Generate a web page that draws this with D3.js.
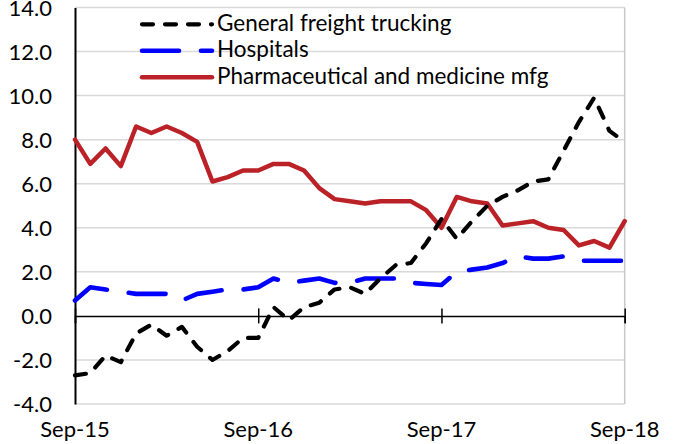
<!DOCTYPE html>
<html>
<head>
<meta charset="utf-8">
<script src="https://cdn.jsdelivr.net/npm/d3@7"></script>
<style>
  html, body { margin: 0; padding: 0; background: #fff; }
  svg text { font-family: Lato, "Open Sans", sans-serif; fill: #000; }
</style>
</head>
<body>
<svg id="chart" width="673" height="444"></svg>
<script>
// Monthly categories, Sep 2015 through Sep 2018
const months = [
  "2015-09","2015-10","2015-11","2015-12",
  "2016-01","2016-02","2016-03","2016-04","2016-05","2016-06","2016-07","2016-08","2016-09","2016-10","2016-11","2016-12",
  "2017-01","2017-02","2017-03","2017-04","2017-05","2017-06","2017-07","2017-08","2017-09","2017-10","2017-11","2017-12",
  "2018-01","2018-02","2018-03","2018-04","2018-05","2018-06","2018-07","2018-08","2018-09"
];

// Year-over-year change, percent
const freightTrucking = [
  -2.7, -2.6, -1.8, -2.1,
  -0.8, -0.4, -0.9, -0.5, -1.4, -2.0, -1.6, -1.0, -1.0, 0.4, -0.2, 0.4,
  0.6, 1.2, 1.3, 1.0, 1.7, 2.3, 2.4, 3.3, 4.4, 3.5, 4.3, 5.0,
  5.4, 5.7, 6.1, 6.2, 7.5, 8.8, 9.9, 8.4, 7.9
];
const hospitals = [
  0.7, 1.3, 1.2, 1.1,
  1.0, 1.0, 1.0, 0.7, 1.0, 1.1, 1.2, 1.2, 1.3, 1.7, 1.5, 1.6,
  1.7, 1.5, 1.5, 1.7, 1.7, 1.7, 1.5, 1.45, 1.4, 2.0, 2.1, 2.2,
  2.4, 2.7, 2.6, 2.6, 2.7, 2.5, 2.5, 2.5, 2.5
];
const pharmaMfg = [
  8.0, 6.9, 7.6, 6.8,
  8.6, 8.3, 8.6, 8.3, 7.9, 6.1, 6.3, 6.6, 6.6, 6.9, 6.9, 6.6,
  5.8, 5.3, 5.2, 5.1, 5.2, 5.2, 5.2, 4.8, 4.0, 5.4, 5.2, 5.1,
  4.1, 4.2, 4.3, 4.0, 3.9, 3.2, 3.4, 3.1, 4.3
];

const yTicks = [-4, -2, 0, 2, 4, 6, 8, 10, 12, 14];
const xTickMonths = ["2015-09", "2016-09", "2017-09", "2018-09"];
const xTickLabels = ["Sep-15", "Sep-16", "Sep-17", "Sep-18"];

const seriesNames = ["General freight trucking", "Hospitals", "Pharmaceutical and medicine mfg"];

const styles = {
  "General freight trucking": { color: "#000000", width: 4.2, dash: "11,12" },
  "Hospitals": { color: "#0000ff", width: 4.6, dash: "37,22" },
  "Pharmaceutical and medicine mfg": { color: "#bb2228", width: 4.5, dash: null }
};

const series = [
  { name: seriesNames[0], values: freightTrucking },
  { name: seriesNames[1], values: hospitals },
  { name: seriesNames[2], values: pharmaMfg }
];

const svg = d3.select("#chart");
const plot = { left: 75, right: 624.7, top: 7.5, bottom: 404 };

const x = d3.scalePoint().domain(months).range([plot.left, plot.right]);
const y = d3.scaleLinear().domain([-4, 14]).range([plot.bottom, plot.top]);

// Horizontal gridlines
svg.append("g")
  .selectAll("line")
  .data(yTicks.filter(v => v !== 0))
  .join("line")
  .attr("x1", plot.left).attr("x2", plot.right)
  .attr("y1", d => y(d)).attr("y2", d => y(d))
  .attr("stroke", "#d9d9d9")
  .attr("stroke-width", 1.5);

// Plot-area border on the right
svg.append("line")
  .attr("x1", plot.right).attr("x2", plot.right)
  .attr("y1", plot.top).attr("y2", plot.bottom)
  .attr("stroke", "#c8c8c8").attr("stroke-width", 1.5);

// Value axis
const yAxis = svg.append("g")
  .attr("transform", `translate(${plot.left},0)`)
  .call(d3.axisLeft(y).tickValues(yTicks).tickSize(0).tickPadding(23)
    .tickFormat(d => d.toFixed(1)));
yAxis.select(".domain").attr("stroke", "#000").attr("stroke-width", 2);
yAxis.selectAll("text").style("font-size", "22px").attr("dy", "0.35em");

// Zero line with yearly tick marks crossing it
const xAxis = svg.append("g")
  .attr("transform", `translate(0,${y(0)})`)
  .call(d3.axisBottom(x).tickValues(xTickMonths).tickSize(7).tickFormat(""));
xAxis.select(".domain").attr("stroke", "#000").attr("stroke-width", 1.5);
xAxis.selectAll(".tick line")
  .attr("y1", -7.5).attr("y2", 7.5)
  .attr("stroke", "#000").attr("stroke-width", 1.5);

// Date labels under the plot
svg.append("g")
  .selectAll("text")
  .data(xTickMonths)
  .join("text")
  .attr("x", d => x(d))
  .attr("y", 437)
  .attr("text-anchor", "middle")
  .style("font-size", "22px")
  .text((d, i) => xTickLabels[i]);

// Series lines
const line = d3.line()
  .x((d, i) => x(months[i]))
  .y(d => y(d));

const drawOrder = [series[2], series[1], series[0]];
svg.append("g")
  .selectAll("path")
  .data(drawOrder)
  .join("path")
  .attr("d", d => line(d.values))
  .attr("fill", "none")
  .attr("stroke", d => styles[d.name].color)
  .attr("stroke-width", d => styles[d.name].width)
  .attr("stroke-dasharray", d => styles[d.name].dash)
  .attr("stroke-linecap", "round")
  .attr("stroke-linejoin", "round");

// Legend
const legend = svg.append("g").attr("transform", "translate(140,24.3)");
const rows = legend.selectAll("g")
  .data(series)
  .join("g")
  .attr("transform", (d, i) => `translate(0,${i * 26.5})`);
rows.append("line")
  .attr("x1", 2).attr("x2", 72)
  .attr("y1", 0).attr("y2", 0)
  .attr("stroke", d => styles[d.name].color)
  .attr("stroke-width", d => styles[d.name].width)
  .attr("stroke-dasharray", d => styles[d.name].dash)
  .attr("stroke-linecap", "round");
rows.append("text")
  .attr("x", 77)
  .attr("y", 6.5)
  .style("font-size", "22.5px")
  .text(d => d.name);
</script>
</body>
</html>
